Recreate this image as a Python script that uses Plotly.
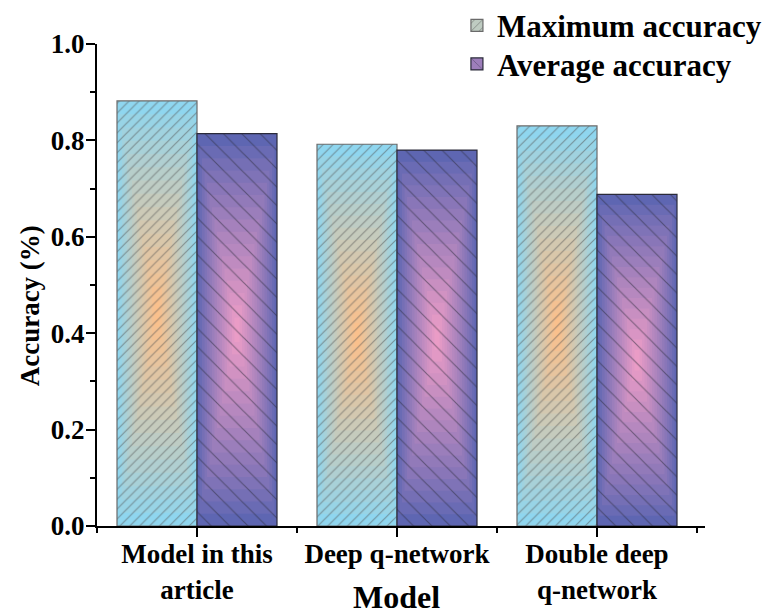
import plotly.graph_objects as go

categories = ["Model in this<br>article", "Deep q-network", "Double deep<br>q-network"]
max_acc = [0.882, 0.792, 0.830]
avg_acc = [0.814, 0.780, 0.688]
series_names = ["Maximum accuracy", "Average accuracy"]
y_ticks = [0.0, 0.2, 0.4, 0.6, 0.8, 1.0]

FONT = "Liberation Serif, Times New Roman, serif"
x_idx = list(range(len(categories)))
BAR_W = 0.4
N_LAYERS = 16

styles = [
    dict(vals=max_acc, edge=(143, 214, 239), center=(250, 192, 140), off=-BAR_W,
         shape="/", psize=7, sol=0.17, fg="#505050", line="#6a6a6a"),
    dict(vals=avg_acc, edge=(94, 102, 178), center=(234, 156, 198), off=0.0,
         shape="\\", psize=13, sol=0.09, fg="#2a2a3a", line="#2a2a3a"),
]

def mix(a, b, t):
    return "rgb(%d,%d,%d)" % tuple(round(a[i] + (b[i] - a[i]) * t) for i in range(3))

fig = go.Figure()
for s in styles:
    v = s["vals"]
    for k in range(N_LAYERS):
        f = 1 - k / N_LAYERS
        t = (k / (N_LAYERS - 1)) ** 0.9
        fig.add_trace(go.Bar(
            x=x_idx, y=[val * f for val in v], base=[val * (1 - f) / 2 for val in v],
            width=BAR_W * f, offset=s["off"] + BAR_W * (1 - f) / 2,
            marker=dict(color=mix(s["edge"], s["center"], t), line=dict(width=0)),
            showlegend=False, hoverinfo="skip"))
    # hatch + outline layer
    fig.add_trace(go.Bar(
        x=x_idx, y=v, width=BAR_W, offset=s["off"],
        marker=dict(color="rgba(0,0,0,0)", line=dict(color=s["line"], width=1.2),
                    pattern=dict(shape=s["shape"], size=s["psize"], solidity=s["sol"],
                                 fgcolor=s["fg"], bgcolor="rgba(0,0,0,0)")),
        showlegend=False, hoverinfo="skip"))

for s, name, lg in zip(styles, series_names, ["legend", "legend2"]):
    fig.add_trace(go.Bar(
        x=[None], y=[None], name=name, legend=lg,
        marker=dict(color=mix(s["edge"], s["center"], 0.45), line=dict(color=s["line"], width=1.2),
                    pattern=dict(shape=s["shape"], size=s["psize"], solidity=s["sol"],
                                 fgcolor=s["fg"]))))

legend_common = dict(xanchor="left", yanchor="middle", bgcolor="rgba(0,0,0,0)",
                     font=dict(size=31, family=FONT, weight="bold"))

fig.update_layout(
    width=771, height=614,
    barmode="overlay",
    plot_bgcolor="white", paper_bgcolor="white",
    margin=dict(l=97, r=66, t=44, b=88, autoexpand=False),
    font=dict(family=FONT, color="black", size=24, weight="bold"),
    legend=dict(x=0.592, y=1.038, **legend_common),
    legend2=dict(x=0.592, y=0.958, **legend_common),
    xaxis=dict(
        range=[-0.5, 2.54], tickmode="array", tickvals=x_idx, ticktext=categories,
        showline=True, linecolor="black", linewidth=2, mirror=False,
        ticks="outside", ticklen=9, tickwidth=2, tickcolor="black",
        minor=dict(tickmode="array", tickvals=[-0.5, 0.5, 1.5, 2.5], ticks="outside",
                   ticklen=5, tickwidth=2, tickcolor="black"),
        showgrid=False, zeroline=False, automargin=False, ticklabelstandoff=-6,
        tickfont=dict(size=27, family=FONT, weight="bold"),
    ),
    yaxis=dict(
        range=[0, 1.0], tickmode="array", tickvals=y_ticks,
        ticktext=["%.1f" % t for t in y_ticks],
        showline=True, linecolor="black", linewidth=2,
        ticks="outside", ticklen=9, tickwidth=2, tickcolor="black",
        minor=dict(dtick=0.1, ticks="outside", ticklen=5, tickwidth=2, tickcolor="black"),
        showgrid=False, zeroline=False, automargin=False, ticklabelstandoff=-4,
        tickfont=dict(size=27, family=FONT, weight="bold"),
    ),
    annotations=[
        dict(text="Accuracy (%)", textangle=-90, xref="paper", yref="paper",
             x=-0.11, y=0.456, xanchor="center", yanchor="middle", showarrow=False,
             font=dict(size=27, family=FONT, weight="bold")),
        dict(text="Model", xref="paper", yref="paper",
             x=0.493, y=-0.147, xanchor="center", yanchor="middle", showarrow=False,
             font=dict(size=32, family=FONT, weight="bold")),
    ],
)

fig.write_html("out.html", config={"displayModeBar": False},
               post_script="document.body.style.margin='0';document.body.style.overflow='hidden';")
